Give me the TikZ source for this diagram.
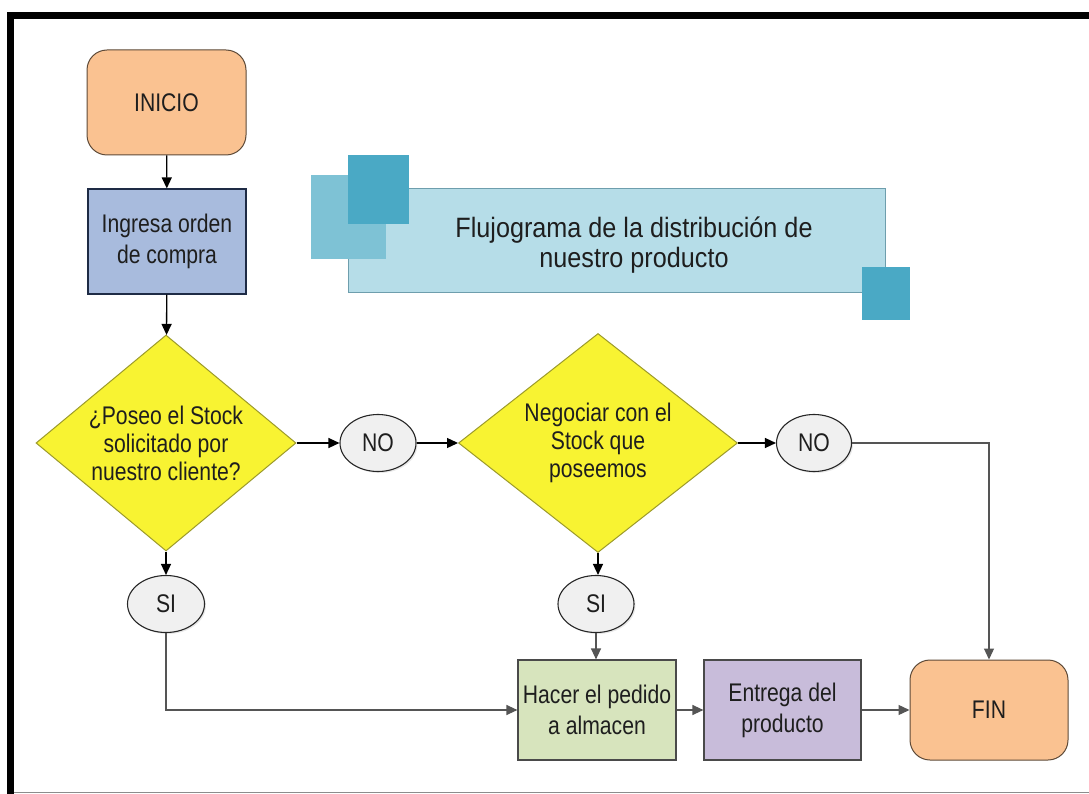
\documentclass[tikz,border=0pt]{standalone}
\usepackage{fontspec}
\setmainfont{Liberation Sans}[FakeStretch=0.83]
\newfontfamily\titlefont{Liberation Sans}[FakeStretch=0.9]
\usetikzlibrary{shapes.geometric,arrows.meta,shadows}
\definecolor{peach}{HTML}{FAC291}
\definecolor{peachline}{HTML}{5E4A38}
\definecolor{bluebox}{HTML}{A8BBDD}
\definecolor{blueline}{HTML}{1E2B45}
\definecolor{yellowd}{HTML}{F8F332}
\definecolor{yellowline}{HTML}{9C9A2A}
\definecolor{greenbox}{HTML}{D7E4BD}
\definecolor{lavbox}{HTML}{C8BCDA}
\definecolor{boxline}{HTML}{4A4A4A}
\definecolor{banner}{HTML}{B6DDE8}
\definecolor{bannerline}{HTML}{6E9EAD}
\definecolor{tealmid}{HTML}{7EC2D5}
\definecolor{tealdark}{HTML}{4AA9C5}
\definecolor{txt}{HTML}{1E1E1E}
\definecolor{arrgray}{HTML}{555555}
\tikzset{
  boxtext/.style={font=\fontsize{25.5}{31}\selectfont, text=txt, align=center},
  dectext/.style={font=\fontsize{25.5}{28}\selectfont, text=txt, align=center},
  terminal/.style={boxtext, rounded corners=20pt, fill=peach, draw=peachline, line width=1pt, inner sep=0pt},
  procbox/.style={boxtext, draw=boxline, line width=1.2pt, inner sep=0pt},
  decision/.style={diamond, fill=yellowd, draw=yellowline, line width=1pt, inner sep=0pt},
  answer/.style={ellipse, boxtext, fill=black!6, draw=black!85, line width=1.1pt, inner sep=0pt,
     drop shadow={opacity=0.18, shadow xshift=1.5pt, shadow yshift=-1.5pt}},
  arr/.style={draw=black, line width=1.3pt, -{Triangle[length=11pt,width=10pt]}},
  arrg/.style={draw=arrgray, line width=1.3pt, -{Triangle[length=11pt,width=10pt]}},
}
\begin{document}
\begin{tikzpicture}[x=1pt,y=-1pt]
\useasboundingbox (0,0) rectangle (1089,794);
\fill[white] (0,0) rectangle (1089,794);
% frame
\fill[black] (7,12) rectangle (1089,19);
\fill[black] (7,12) rectangle (14,794);
\draw[black!45, line width=1.5pt] (14,792.5) -- (1089,792.5);

% title decoration
\fill[banner] (348,188) rectangle (885,292);
\draw[bannerline, line width=0.8pt] (348,188) rectangle (885,292);
\fill[tealmid] (311,175) rectangle (386,259);
\fill[tealdark] (348,155) rectangle (409,224);
\fill[tealdark] (862,267) rectangle (910,320);
\node[font=\titlefont\fontsize{28}{30}\selectfont, text=txt, align=center] (title) at (634,245)
  {Flujograma de la distribución de\\nuestro producto};

% nodes
\node[terminal, minimum width=159pt, minimum height=105pt] (inicio) at (166.5,102.5) {INICIO};
\node[procbox, fill=bluebox, draw=blueline, minimum width=158pt, minimum height=105pt] (ingresa) at (167,241.5) {Ingresa orden\\de compra};
\node[decision, minimum width=260pt, minimum height=216pt] (d1) at (166,443) {};
\node[dectext] (d1t) at (166,443) {¿Poseo el Stock\\solicitado por\\nuestro cliente?};
\node[answer, minimum width=76pt, minimum height=57pt] (no1) at (378,443) {NO};
\node[decision, minimum width=279pt, minimum height=219pt] (d2) at (598,443) {};
\node[dectext] (d2t) at (598,443) {Negociar con el\\Stock que\\poseemos};
\node[answer, minimum width=75pt, minimum height=57pt] (no2) at (814,443) {NO};
\node[answer, minimum width=77pt, minimum height=57pt] (si1) at (166,604) {SI};
\node[answer, minimum width=76pt, minimum height=57pt] (si2) at (596,604) {SI};
\node[procbox, fill=greenbox, minimum width=158pt, minimum height=100pt] (hacer) at (597,710) {Hacer el pedido\\a almacen};
\node[procbox, fill=lavbox, minimum width=157pt, minimum height=100pt] (entrega) at (782.5,710) {Entrega del\\producto};
\node[terminal, minimum width=158pt, minimum height=100pt] (fin) at (989,710) {FIN};

% connectors
\draw[arr] (inicio) -- (ingresa);
\draw[arr] (ingresa) -- (d1);
\draw[arr] (d1) -- (no1);
\draw[arr] (no1) -- (d2);
\draw[arr] (d2) -- (no2);
\draw[arr] (d1) -- (si1);
\draw[arr] (d2) -- (d2.south |- si2.north);
\draw[arrg] (no2) -| (fin);
\draw[arrg] (si1) |- (hacer);
\draw[arrg] (si2) -- (si2 |- hacer.north);
\draw[arrg] (hacer) -- (entrega);
\draw[arrg] (entrega) -- (fin);
\end{tikzpicture}
\end{document}
